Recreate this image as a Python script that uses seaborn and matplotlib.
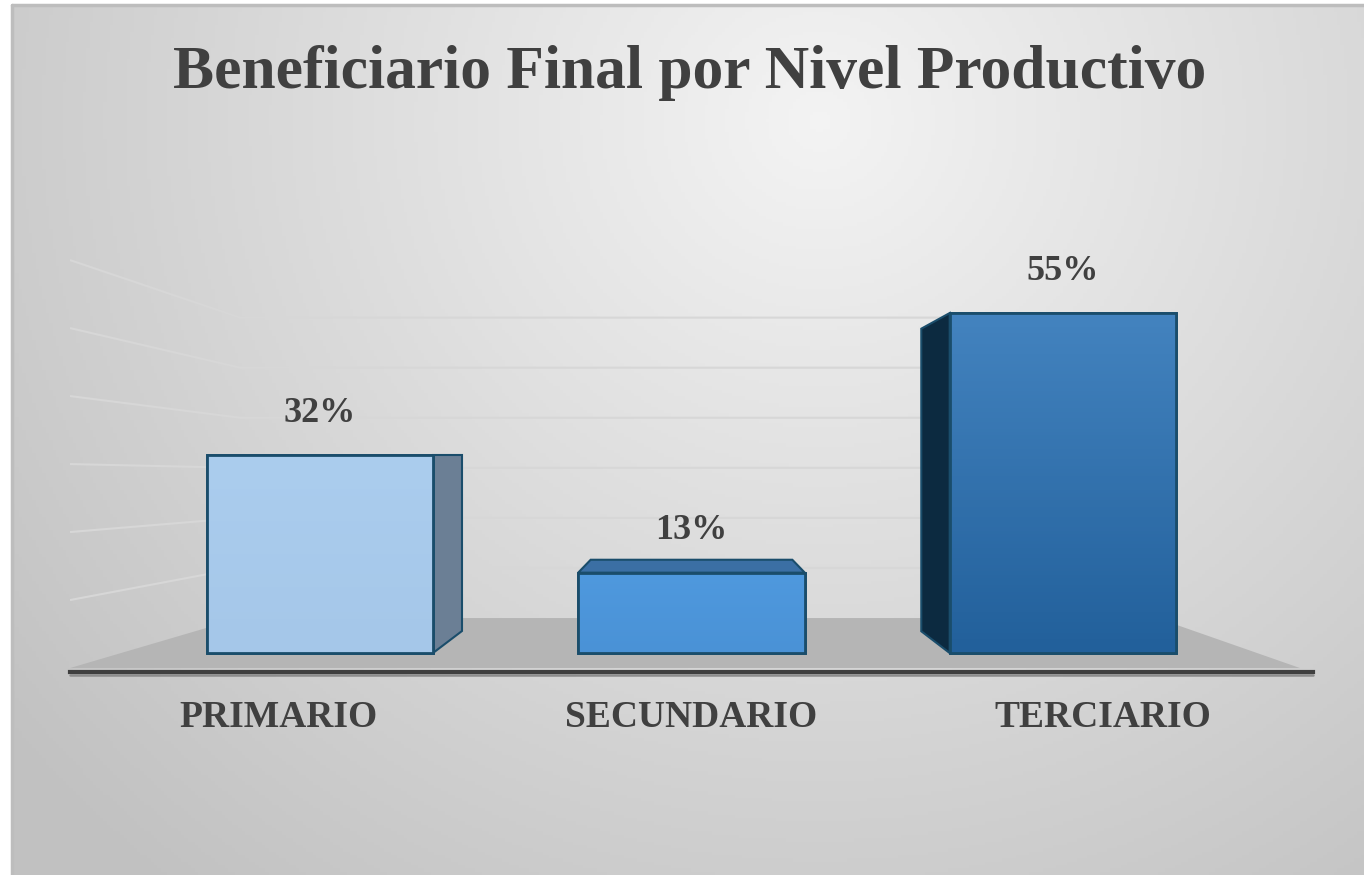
import numpy as np
import matplotlib
matplotlib.use("Agg")
import matplotlib.pyplot as plt
from matplotlib.patches import Polygon, Rectangle
from matplotlib.colors import LinearSegmentedColormap
import seaborn as sns

# data
categories = ["PRIMARIO", "SECUNDARIO", "TERCIARIO"]
values = [32, 13, 55]
title = "Beneficiario Final por Nivel Productivo"

# styles
front_top = ["#abcdee", "#4f99de", "#4383bf"]
front_bottom = ["#a5c7e9", "#4a92d6", "#22609b"]
side_shade = ["#6b7f95", "#2f5f8e", "#0c2a40"]
top_shade = ["#6b7f95", "#3b6fa4", "#0c2a40"]
edge = "#1a4d6b"
text_col = "#404040"
serif = ["Liberation Serif", "DejaVu Serif"]

sns.set_style("white")
plt.rcParams["font.family"] = serif

fig = plt.figure(figsize=(13.64, 8.75), dpi=100)
fig.patch.set_facecolor("white")

# background with radial gradient
bg = fig.add_axes([0, 0, 1, 1])
bg.set_xlim(0, 1364)
bg.set_ylim(875, 0)
bg.axis("off")
gx, gy = np.meshgrid(np.linspace(12, 1364, 400), np.linspace(5, 875, 260))
r = np.hypot(gx - 820, (gy - 120) * 1.05) / 900
shade = 0.955 - 0.17 * np.clip(r, 0, 1.15)
bg.imshow(np.dstack([shade] * 3), extent=(12, 1364, 875, 5), aspect="auto", zorder=0)
bg.plot([12, 12], [875, 5], color="#bdbdbd", lw=2.5, zorder=1)
bg.plot([12, 1364], [5, 5], color="#bdbdbd", lw=2.5, zorder=1)

# main axes
ax = fig.add_axes([70 / 1364, 203 / 875, 1243 / 1364, 422 / 875])
ax.patch.set_alpha(0)

sns.barplot(x=categories, y=values, hue=categories, palette=front_bottom,
            width=0.61, errorbar=None, legend=False, ax=ax,
            edgecolor=edge, linewidth=2, zorder=3)

# perspective helpers (vanishing centre in data coords)
cx, cy, k = 1.0, 32.0, 0.89
def back(x, y, kk=k):
    return cx + (x - cx) * kk, cy + (y - cy) * kk

# floor and back wall
x_left, x_right = -0.673, 2.673
floor_front, floor_back = -2.43, 5.66
x_back_l, x_back_r = -0.215, 2.253
x_floor_r = 2.638
ax.add_patch(Polygon([(x_left, floor_front), (x_floor_r, floor_front),
                      (x_back_r, floor_back), (x_back_l, floor_back)],
                     closed=True, facecolor="#b5b5b5", edgecolor="none", zorder=1))
for v in range(10, 70, 10):
    yf = floor_front + v * 1.1
    yb = floor_back + v * 0.81
    ax.plot([x_left, x_back_l, x_back_r], [yf, yb, yb], color="#d7d7d7",
            lw=1.5, zorder=1.5, solid_capstyle="butt")

# 3d faces, gradients, outlines
for i, bar in enumerate(ax.patches[:len(values)]):
    x0, w, h = bar.get_x(), bar.get_width(), bar.get_height()
    x1 = x0 + w
    faces = []
    if x1 < cx:
        faces.append(([(x1, 0), (x1, h), back(x1, h), back(x1, 0)], side_shade[i]))
    if x0 > cx:
        faces.append(([(x0, 0), (x0, h), back(x0, h), back(x0, 0)], side_shade[i]))
    if h < cy - 1:
        faces.append(([(x0, h), (x1, h), back(x1, h), back(x0, h)], top_shade[i]))
    for pts, col in faces:
        ax.add_patch(Polygon(pts, closed=True, facecolor=col, edgecolor=edge,
                             lw=1.5, zorder=2.5))
    cmap = LinearSegmentedColormap.from_list("g%d" % i, [front_bottom[i], front_top[i]])
    im = ax.imshow(np.linspace(0, 1, 100).reshape(-1, 1), cmap=cmap, aspect="auto",
                   origin="lower", extent=(x0, x1, 0, h), zorder=3.1)
    im.set_clip_path(bar)
    ax.add_patch(Rectangle((x0, 0), w, h, fill=False, edgecolor=edge, lw=2, zorder=3.2))
    ax.annotate(f"{values[i]}%", (x0 + w / 2, h), xytext=(0, 30),
                textcoords="offset points", ha="center", va="center",
                fontsize=26, fontweight="bold", color=text_col, zorder=4)

# category labels (shifted a bit by the perspective)
label_shift = [-0.113, 0.0, 0.108]
for i, cat in enumerate(categories):
    ax.text(i + label_shift[i], -10.4, cat, ha="center", va="center", fontsize=27,
            fontweight="bold", color=text_col, clip_on=False)

ax.set_xlim(x_left, x_right)
ax.set_ylim(-3.07, 65.2)
ax.set_xticks([])
ax.set_yticks([])
ax.set_xlabel("")
ax.set_ylabel("")
for s in ["top", "left", "right"]:
    ax.spines[s].set_visible(False)
ax.spines["bottom"].set_color("#3f3f3f")
ax.spines["bottom"].set_linewidth(3)
ax.plot([x_left, x_right], [-3.6, -3.6], color="#8c8c8c", lw=1.8, clip_on=False, zorder=0.9)

fig.text(690 / 1364, 1 - 73 / 875, title, ha="center", va="center", fontsize=44.3,
         fontweight="bold", color=text_col)

fig.savefig("out.png", dpi=100)
